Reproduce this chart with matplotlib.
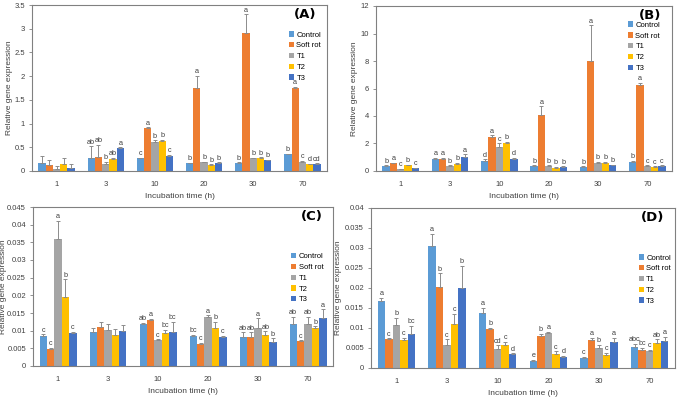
import numpy as np
import matplotlib
matplotlib.use('Agg')
import matplotlib.pyplot as plt
from matplotlib import font_manager
from matplotlib.ticker import FuncFormatter

installed = {f.name for f in font_manager.fontManager.ttflist}
if 'Liberation Sans Narrow' in installed:
    base_font = 'Liberation Sans Narrow'
else:
    base_font = 'Liberation Sans'
plt.rcParams['font.family'] = [base_font, 'DejaVu Sans']

times = ['1', '3', '10', '20', '30', '70']
series = ['Control', 'Soft rot', 'T1', 'T2', 'T3']
colors = ['#5B9BD5', '#ED7D31', '#A5A5A5', '#FFC000', '#4472C4']

# Panel A
a_mean = [[0.17, 0.27, 0.27, 0.16, 0.17, 0.35],
          [0.12, 0.29, 0.90, 1.75, 2.90, 1.74],
          [0.05, 0.15, 0.62, 0.19, 0.27, 0.20],
          [0.14, 0.26, 0.64, 0.13, 0.28, 0.14],
          [0.07, 0.49, 0.32, 0.17, 0.23, 0.15]]
a_err = [[0.15, 0.25, 0.01, 0.01, 0.01, 0.01],
         [0.12, 0.26, 0.02, 0.25, 0.40, 0.04],
         [0.06, 0.05, 0.03, 0.01, 0.01, 0.01],
         [0.13, 0.02, 0.02, 0.01, 0.01, 0.01],
         [0.08, 0.01, 0.02, 0.01, 0.01, 0.01]]
a_let = [['', 'ab', 'c', 'b', 'b', 'b'],
         ['', 'ab', 'a', 'a', 'a', 'a'],
         ['', 'b', 'b', 'b', 'b', 'c'],
         ['', 'ab', 'b', 'b', 'b', 'd'],
         ['', 'a', 'c', 'b', 'b', 'cd']]

# Panel B
b_mean = [[0.35, 0.90, 0.75, 0.35, 0.30, 0.65],
          [0.55, 0.90, 2.50, 4.10, 8.00, 6.25],
          [0.12, 0.35, 1.75, 0.35, 0.55, 0.35],
          [0.40, 0.50, 2.05, 0.25, 0.60, 0.30],
          [0.20, 1.00, 0.90, 0.30, 0.40, 0.35]]
b_err = [[0.05, 0.05, 0.10, 0.05, 0.05, 0.10],
         [0.05, 0.05, 0.10, 0.60, 2.60, 0.15],
         [0.03, 0.05, 0.25, 0.05, 0.10, 0.05],
         [0.05, 0.10, 0.05, 0.03, 0.05, 0.03],
         [0.03, 0.20, 0.05, 0.05, 0.05, 0.05]]
b_let = [['b', 'a', 'd', 'b', 'b', 'b'],
         ['a', 'a', 'a', 'a', 'a', 'a'],
         ['c', 'b', 'c', 'b', 'b', 'c'],
         ['b', 'b', 'b', 'b', 'b', 'c'],
         ['c', 'a', 'd', 'b', 'b', 'c']]

# Panel C
c_mean = [[0.0085, 0.0097, 0.0118, 0.0085, 0.0082, 0.0120],
          [0.0048, 0.0110, 0.0130, 0.0063, 0.0081, 0.0070],
          [0.0360, 0.0102, 0.0073, 0.0140, 0.0107, 0.0120],
          [0.0196, 0.0089, 0.0093, 0.0107, 0.0087, 0.0107],
          [0.0092, 0.0100, 0.0097, 0.0082, 0.0069, 0.0137]]
c_err = [[0.0005, 0.0010, 0.0004, 0.0003, 0.0013, 0.0020],
         [0.0003, 0.0015, 0.0003, 0.0003, 0.0014, 0.0003],
         [0.0050, 0.0018, 0.0003, 0.0003, 0.0028, 0.0020],
         [0.0049, 0.0016, 0.0009, 0.0018, 0.0011, 0.0005],
         [0.0005, 0.0015, 0.0028, 0.0003, 0.0009, 0.0023]]
c_let = [['c', '', 'ab', 'bc', 'ab', 'ab'],
         ['c', '', 'a', 'c', 'ab', 'c'],
         ['a', '', 'c', 'a', 'a', 'ab'],
         ['b', '', 'bc', 'b', 'ab', 'b'],
         ['c', '', 'bc', 'c', 'b', 'a']]

# Panel D
d_mean = [[0.0168, 0.0305, 0.0138, 0.0018, 0.0026, 0.0052],
          [0.0072, 0.0202, 0.0098, 0.0080, 0.0071, 0.0046],
          [0.0107, 0.0057, 0.0048, 0.0088, 0.0051, 0.0042],
          [0.0070, 0.0110, 0.0058, 0.0035, 0.0033, 0.0063],
          [0.0085, 0.0200, 0.0035, 0.0028, 0.0066, 0.0068]]
d_err = [[0.0007, 0.0030, 0.0012, 0.0002, 0.0002, 0.0008],
         [0.0002, 0.0035, 0.0002, 0.0005, 0.0004, 0.0005],
         [0.0018, 0.0015, 0.0009, 0.0002, 0.0007, 0.0003],
         [0.0005, 0.0025, 0.0007, 0.0007, 0.0005, 0.0009],
         [0.0020, 0.0055, 0.0002, 0.0002, 0.0009, 0.0010]]
d_let = [['a', 'a', 'a', 'e', 'c', 'abc'],
         ['c', 'b', 'b', 'b', 'a', 'bc'],
         ['b', 'c', 'cd', 'a', 'b', 'c'],
         ['c', 'c', 'c', 'c', 'c', 'ab'],
         ['bc', 'b', 'd', 'd', 'a', 'a']]


def panel(ax, means, errs, letters, ymax, ystep, tag, leg_xy, ylab_x):
    '''
    Grouped bars with one-sided error bars and letters
    '''
    x = np.arange(len(times))
    w = 0.148
    for i, name in enumerate(series):
        pos = x + (i - 2) * w
        m = np.array(means[i])
        e = np.array(errs[i])
        ax.bar(pos, m, w, color=colors[i], label=name, zorder=2)
        ax.errorbar(pos, m, yerr=[np.zeros_like(e), e], fmt='none',
                    ecolor='#8c8c8c', elinewidth=0.7, capsize=1.6,
                    capthick=0.7, zorder=3)
        for p, top, lab in zip(pos, m + e, letters[i]):
            if lab:
                ax.text(p, top + ymax * 0.004, lab, ha='center', va='bottom',
                        fontsize=5.2, color='#404040')

    ax.set_xlim(-0.5, len(times) - 0.5)
    ax.set_ylim(0, ymax)
    ax.set_xticks(x)
    ax.set_xticklabels(times)
    ax.set_yticks(np.arange(0, ymax + ystep / 2, ystep))
    ax.yaxis.set_major_formatter(FuncFormatter(lambda v, p: '{:g}'.format(round(v, 4))))
    ax.tick_params(axis='x', length=0, pad=7, labelsize=5.5, colors='#404040')
    ax.tick_params(axis='y', length=2, width=0.6, pad=3, labelsize=5.5,
                   colors='#404040', color='#808080')
    for s in ax.spines.values():
        s.set_color('#808080')
        s.set_linewidth(0.8)

    ax.set_xlabel('Incubation time (h)', fontsize=6, color='#404040', labelpad=4)
    ax.set_ylabel('Relative gene expression', fontsize=6, color='#404040')
    ax.yaxis.set_label_coords(ylab_x, 0.5)

    ax.text(0.965, 0.94, tag, transform=ax.transAxes, ha='right', va='center',
            fontsize=9.5, fontweight='bold', family='DejaVu Sans')
    ax.legend(loc='upper left', bbox_to_anchor=leg_xy, frameon=False,
              fontsize=5.5, handlelength=0.7, handleheight=0.7,
              handletextpad=0.3, labelspacing=0.45, borderaxespad=0)


fig = plt.figure(figsize=(6.78, 3.98), dpi=100)
ax_a = fig.add_axes([32 / 678, 1 - 171 / 398, 295 / 678, 166 / 398])
ax_b = fig.add_axes([376 / 678, 1 - 171 / 398, 296 / 678, 165 / 398])
ax_c = fig.add_axes([33 / 678, 1 - 366 / 398, 300 / 678, 159 / 398])
ax_d = fig.add_axes([371 / 678, 1 - 368 / 398, 304 / 678, 160 / 398])

panel(ax_a, a_mean, a_err, a_let, 3.5, 0.5, '(A)', (0.86, 0.86), -0.065)
panel(ax_b, b_mean, b_err, b_let, 12, 2, '(B)', (0.84, 0.925), -0.06)
panel(ax_c, c_mean, c_err, c_let, 0.045, 0.005, '(C)', (0.85, 0.73), -0.088)
panel(ax_d, d_mean, d_err, d_let, 0.04, 0.005, '(D)', (0.87, 0.73), -0.095)

fig.savefig('out.png', dpi=100)
plt.close()
